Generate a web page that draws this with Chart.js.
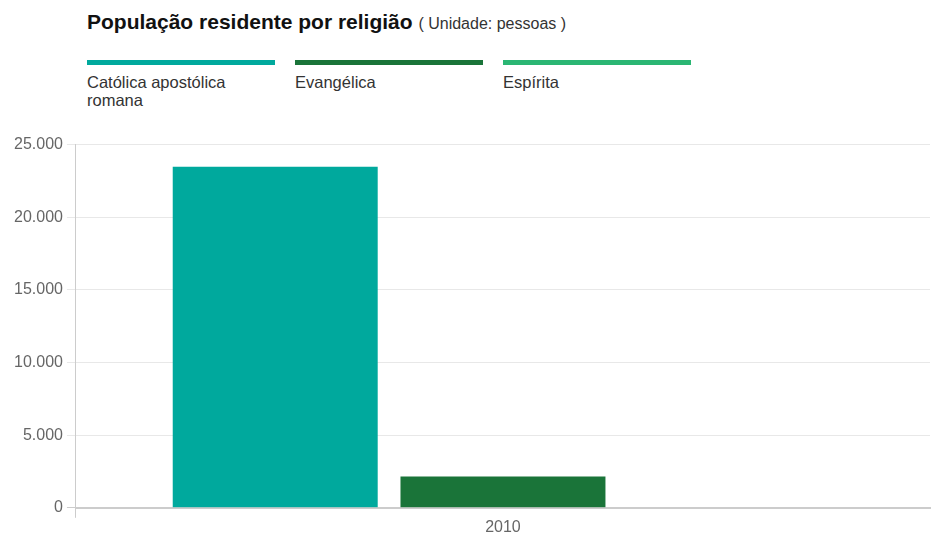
<!DOCTYPE html>
<html>
<head>
<meta charset="utf-8">
<script src="https://cdn.jsdelivr.net/npm/chart.js@4"></script>
<style>
  body { margin: 0; width: 944px; height: 535px; background: #fff; font-family: 'Liberation Sans', Arial, sans-serif; position: relative; overflow: hidden; }
  #titulo { position: absolute; left: 87px; top: 10px; font-size: 21px; font-weight: bold; color: #111; white-space: nowrap; }
  #titulo span { font-size: 16px; font-weight: normal; color: #333; }
  #legenda { position: absolute; left: 87px; top: 60px; }
  .item { position: absolute; top: 0; width: 188px; }
  .item .linha { height: 5px; }
  .item .nome { margin-top: 8px; font-size: 16.5px; line-height: 18px; color: #333; width: 175px; }
  #grafico { position: absolute; left: 0; top: 131px; width: 944px; height: 406px; }
</style>
</head>
<body>
<div id="titulo">População residente por religião <span>( Unidade: pessoas )</span></div>
<div id="legenda"></div>
<div id="grafico"><canvas id="c"></canvas></div>
<script>
// dados
const anos = ['2010'];
const religioes = ['Católica apostólica romana', 'Evangélica', 'Espírita'];
const catolica = [23480];
const evangelica = [2150];
const espirita = [0];
const cores = ['#00a99d', '#1a7439', '#2bb673'];
const ticksY = [0, 5000, 10000, 15000, 20000, 25000];

// legenda em HTML
const leg = document.getElementById('legenda');
religioes.forEach(function (nome, i) {
    const d = document.createElement('div');
    d.className = 'item';
    d.style.left = (i * 208) + 'px';
    d.innerHTML = '<div class="linha" style="background:' + cores[i] + '"></div><div class="nome">' + nome + '</div>';
    leg.appendChild(d);
});

const fmt = v => v.toLocaleString('pt-BR');

new Chart(document.getElementById('c'), {
    type: 'bar',
    data: {
        labels: anos,
        datasets: [
            { label: religioes[0], data: catolica, backgroundColor: cores[0] },
            { label: religioes[1], data: evangelica, backgroundColor: cores[1] },
            { label: religioes[2], data: espirita, backgroundColor: cores[2] },
        ],
    },
    options: {
        responsive: true,
        maintainAspectRatio: false,
        animation: false,
        layout: { padding: { top: 8, right: 14, left: 10, bottom: 0 } },
        datasets: { bar: { barPercentage: 0.9, categoryPercentage: 0.8 } },
        plugins: { legend: { display: false }, tooltip: { enabled: false } },
        scales: {
            x: {
                grid: {
                    drawOnChartArea: false,
                    tickLength: 10,
                    color: ctx => ctx.index === 0 ? '#cccccc' : 'rgba(0,0,0,0)',
                },
                border: { color: '#cccccc', width: 2 },
                ticks: { color: '#666', font: { size: 16, family: 'Liberation Sans' }, padding: 0 },
            },
            y: {
                min: 0,
                max: 25000,
                afterBuildTicks: axis => { axis.ticks = ticksY.map(v => ({ value: v })); },
                grid: {
                    color: ctx => ctx.tick && ctx.tick.value === 0 ? '#cccccc' : '#e8e8e8',
                    tickLength: 9,
                },
                border: { color: '#cccccc', width: 1 },
                ticks: {
                    color: '#666',
                    font: { size: 16, family: 'Liberation Sans' },
                    padding: 4,
                    callback: v => fmt(v),
                },
            },
        },
    },
});
</script>
</body>
</html>
